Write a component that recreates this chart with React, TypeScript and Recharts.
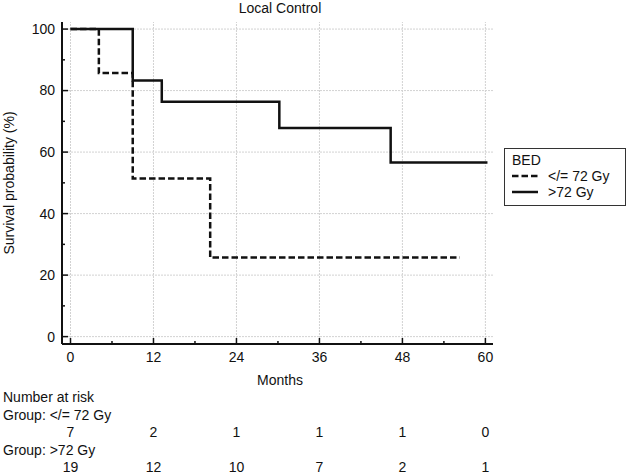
import { LineChart, Line, XAxis, YAxis, ReferenceLine } from 'recharts'

// Kaplan-Meier steps (months, survival %)
const lowTimes = [0, 4.1, 9, 20.2, 56.3]
const lowSurv = [100, 85.7, 51.4, 25.7, 25.7]
const highTimes = [0, 9, 13.2, 30.2, 46.3, 60.3]
const highSurv = [100, 83.3, 76.4, 67.8, 56.6, 56.6]

const groupNames = ['</= 72 Gy', '>72 Gy']
const groupDash = ['6.5 3', undefined]

const xTicks = [0, 6, 12, 18, 24, 30, 36, 42, 48, 54, 60]
const xMajor = [0, 12, 24, 36, 48, 60]
const yTicks = [0, 10, 20, 30, 40, 50, 60, 70, 80, 90, 100]
const yMajor = [0, 20, 40, 60, 80, 100]

const riskLow = [7, 2, 1, 1, 1, 0]
const riskHigh = [19, 12, 10, 7, 2, 1]

const lowData = lowTimes.map((t, i) => ({ t, s: lowSurv[i] }))
const highData = highTimes.map((t, i) => ({ t, s: highSurv[i] }))

const FONT = '"Liberation Sans", Arial, sans-serif'
const INK = '#111'

function XTick({ x, y, payload }: any) {
  const v = payload.value
  const i = xMajor.indexOf(v)
  if (i < 0) {
    return <line x1={x} x2={x} y1={y} y2={y - 3} stroke={INK} strokeWidth={1.5} />
  }
  const txt = { textAnchor: 'middle' as const, dy: '0.35em', fontSize: 14, fontFamily: FONT, fill: INK }
  return (
    <g>
      <line x1={x} x2={x} y1={y} y2={y - 6} stroke={INK} strokeWidth={1.5} />
      <text x={x} y={y + 13} {...txt}>{v}</text>
      <text x={x} y={y + 88} {...txt}>{riskLow[i]}</text>
      <text x={x} y={y + 123} {...txt}>{riskHigh[i]}</text>
    </g>
  )
}

function YTick({ x, y, payload }: any) {
  const v = payload.value
  const major = yMajor.includes(v)
  return (
    <g>
      <line x1={x} x2={x + (major ? 6 : 3)} y1={y} y2={y} stroke={INK} strokeWidth={1.5} />
      {major && (
        <text x={x - 7} y={y} textAnchor="end" dy="0.35em" fontSize={14} fontFamily={FONT} fill={INK}>
          {v}
        </text>
      )}
    </g>
  )
}

const label = (top: number, text: string) => (
  <div style={{ position: 'absolute', top, left: 3, lineHeight: '16px', whiteSpace: 'nowrap' }}>{text}</div>
)

export default function App() {
  return (
    <div
      style={{
        position: 'absolute',
        left: 0,
        top: 0,
        width: 630,
        height: 474,
        background: '#fff',
        fontFamily: FONT,
        fontSize: 14,
        color: INK,
      }}
    >
      <LineChart width={630} height={474} margin={{ top: 22, right: 137, bottom: 100, left: 0 }}>
        {xMajor.map((v) => (
          <ReferenceLine key={'gx' + v} x={v} stroke="#d2d2d2" strokeDasharray="2 1" />
        ))}
        {yMajor.map((v) => (
          <ReferenceLine key={'gy' + v} y={v} stroke="#d2d2d2" strokeDasharray="2 1" />
        ))}
        <XAxis
          dataKey="t"
          type="number"
          domain={[-1.23, 61.1]}
          ticks={xTicks}
          allowDataOverflow
          height={30}
          tickSize={0}
          tickMargin={0}
          tickLine={false}
          axisLine={{ stroke: INK, strokeWidth: 2 }}
          tick={<XTick />}
          interval={0}
        />
        <YAxis
          type="number"
          domain={[-2.4, 102.3]}
          ticks={yTicks}
          allowDataOverflow
          width={62}
          tickSize={0}
          tickMargin={0}
          tickLine={false}
          axisLine={{ stroke: INK, strokeWidth: 2 }}
          tick={<YTick />}
          interval={0}
        />
        <Line
          data={lowData}
          dataKey="s"
          name={groupNames[0]}
          type="stepAfter"
          stroke={INK}
          strokeWidth={2.5}
          strokeDasharray={groupDash[0]}
          dot={false}
          isAnimationActive={false}
        />
        <Line
          data={highData}
          dataKey="s"
          name={groupNames[1]}
          type="stepAfter"
          stroke={INK}
          strokeWidth={2.5}
          dot={false}
          isAnimationActive={false}
        />
      </LineChart>

      {/* title and axis titles */}
      <div style={{ position: 'absolute', top: 0, left: 180, width: 200, textAlign: 'center', lineHeight: '16px' }}>
        Local Control
      </div>
      <div style={{ position: 'absolute', top: 372, left: 180, width: 200, textAlign: 'center', lineHeight: '16px' }}>
        Months
      </div>
      <div
        style={{
          position: 'absolute',
          left: 9 - 100,
          top: 183 - 8,
          width: 200,
          height: 16,
          lineHeight: '16px',
          textAlign: 'center',
          transform: 'rotate(-90deg)',
          whiteSpace: 'nowrap',
        }}
      >
        Survival probability (%)
      </div>

      {/* number at risk captions */}
      {label(389, 'Number at risk')}
      {label(407, 'Group: ' + groupNames[0])}
      {label(442, 'Group: ' + groupNames[1])}

      {/* legend */}
      <div
        style={{
          position: 'absolute',
          left: 504,
          top: 148,
          width: 122,
          height: 58,
          boxSizing: 'border-box',
          border: '1.5px solid #333',
          padding: '3px 0 0 7px',
          lineHeight: '16px',
        }}
      >
        <div>BED</div>
        {groupNames.map((n, i) => (
          <div key={n} style={{ display: 'flex', alignItems: 'center' }}>
            <svg width={26} height={16} style={{ display: 'block' }}>
              <line x1={0} x2={26} y1={8} y2={8} stroke={INK} strokeWidth={2.5} strokeDasharray={groupDash[i]} />
            </svg>
            <span style={{ marginLeft: 10 }}>{n}</span>
          </div>
        ))}
      </div>
    </div>
  )
}
